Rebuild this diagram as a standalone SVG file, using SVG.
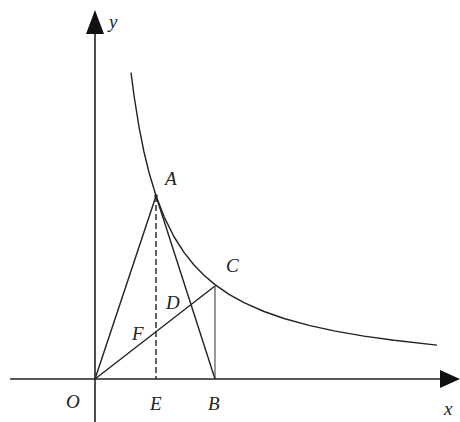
<svg xmlns="http://www.w3.org/2000/svg" width="460" height="422" viewBox="0 0 460 422">
<style>
.ax{stroke:#222;stroke-width:1.6;fill:none}
.ln{stroke:#222;stroke-width:1.4;fill:none}
.thin{stroke:#333;stroke-width:1;fill:none}
.dash{stroke:#222;stroke-width:1.4;fill:none;stroke-dasharray:6,3}
.lb{font-family:"Liberation Serif",serif;font-style:italic;font-size:19px;fill:#222}
</style>
<rect width="460" height="422" fill="#fff"/>
<g id="axes">
<line class="ax" x1="10" y1="379" x2="442" y2="379"/>
<polygon points="460,379 440,370 440,388" fill="#111"/>
<line class="ax" x1="95" y1="422" x2="95" y2="32"/>
<polygon points="95,10 86,34 104,34" fill="#111"/>
</g>
<g id="curve">
<path class="ln" d="M131,72.6 L134,95.5 L139,126.9 L144,152 L149,172.5 L156,195.7 L164,216.6 L174,236.75 L184,252.4 L194,265 L204,275.3 L215,284.6 L229,294.3 L244,302.7 L264,311.5 L284,318.5 L309,325.4 L334,330.9 L364,336.1 L394,340.3 L437,345.1" stroke-linejoin="round"/>
</g>
<g id="connectors">
<line class="ln" x1="95" y1="379" x2="156" y2="196"/>
<line class="ln" x1="156" y1="196" x2="215" y2="379"/>
<line class="ln" x1="95" y1="379" x2="215" y2="286"/>
<line class="thin" x1="215" y1="286" x2="215" y2="379"/>
<line class="dash" x1="156" y1="196" x2="156" y2="379"/>
<circle cx="156" cy="196" r="1.8" fill="#222"/>
</g>
<g id="labels">
<text class="lb" x="165" y="185">A</text>
<text class="lb" x="226" y="272">C</text>
<text class="lb" x="166" y="309">D</text>
<text class="lb" x="132" y="340">F</text>
<text class="lb" x="66" y="408">O</text>
<text class="lb" x="150" y="410">E</text>
<text class="lb" x="208" y="410">B</text>
<text class="lb" x="109" y="28">y</text>
<text class="lb" x="444" y="415">x</text>
</g>
</svg>
